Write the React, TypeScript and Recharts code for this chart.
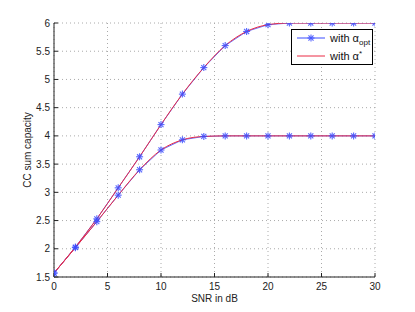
import { LineChart, Line, XAxis, YAxis, CartesianGrid } from 'recharts';

const snr = [0, 2, 4, 6, 8, 10, 12, 14, 16, 18, 20, 22, 24, 26, 28, 30];
const capHigh = [1.57, 2.03, 2.53, 3.08, 3.63, 4.2, 4.74, 5.21, 5.6, 5.85, 5.97, 6.0, 6.0, 6.0, 6.0, 6.0];
const capLow = [1.57, 2.02, 2.48, 2.95, 3.4, 3.75, 3.93, 3.99, 4.0, 4.0, 4.0, 4.0, 4.0, 4.0, 4.0, 4.0];
const xTicks = [0, 5, 10, 15, 20, 25, 30];
const yTicks = [1.5, 2, 2.5, 3, 3.5, 4, 4.5, 5, 5.5, 6];

const data = snr.map((s, i) => ({
  snr: s,
  optHigh: capHigh[i],
  optLow: capLow[i],
  starHigh: capHigh[i],
  starLow: capLow[i],
}));

const BLUE = '#3a4cff';
const RED = '#ea2a44';
const AXIS = '#222';
const font = '"Liberation Sans", Arial, sans-serif';

const StarDot = (props: any) => {
  const { cx, cy } = props;
  if (cx == null || cy == null) return null;
  const r = 3.5;
  const d = r * 0.72;
  return (
    <g stroke={BLUE} strokeWidth={1.1} opacity={0.85}>
      <line x1={cx - r} y1={cy} x2={cx + r} y2={cy} />
      <line x1={cx} y1={cy - r} x2={cx} y2={cy + r} />
      <line x1={cx - d} y1={cy - d} x2={cx + d} y2={cy + d} />
      <line x1={cx - d} y1={cy + d} x2={cx + d} y2={cy - d} />
    </g>
  );
};

const tickStyle = { fill: AXIS, fontSize: 10, fontFamily: font };

export default function App() {
  return (
    <div style={{ position: 'absolute', left: 0, top: 0, width: 415, height: 312, background: '#fff' }}>
      <LineChart
        width={415}
        height={312}
        data={data}
        margin={{ top: 23, right: 40, left: 0, bottom: 0 }}
        style={{ fontFamily: font }}
      >
        <CartesianGrid
          stroke="#aaa"
          strokeDasharray="1 3"
          horizontalValues={yTicks}
          verticalValues={xTicks}
        />
        <XAxis
          dataKey="snr"
          type="number"
          domain={[0, 30]}
          ticks={xTicks}
          height={35}
          stroke={AXIS}
          tick={tickStyle}
          tickSize={-4}
          tickMargin={10}
          allowDataOverflow
          label={{ value: 'SNR in dB', position: 'insideBottom', offset: 10, fill: AXIS, fontSize: 10, fontFamily: font }}
        />
        <XAxis
          xAxisId="top"
          orientation="top"
          type="number"
          domain={[0, 30]}
          ticks={xTicks}
          height={0}
          stroke={AXIS}
          tick={false}
          tickSize={-4}
          allowDataOverflow
        />
        <YAxis
          type="number"
          domain={[1.5, 6]}
          ticks={yTicks}
          width={54}
          stroke={AXIS}
          tick={tickStyle}
          tickSize={-4}
          tickMargin={8}
          allowDataOverflow
          label={{ value: 'CC sum capacity', angle: -90, position: 'center', fill: AXIS, fontSize: 10, fontFamily: font }}
        />
        <YAxis
          yAxisId="right"
          orientation="right"
          type="number"
          domain={[1.5, 6]}
          ticks={yTicks}
          width={0}
          stroke={AXIS}
          tick={false}
          tickSize={-4}
          allowDataOverflow
        />
        <Line dataKey="optHigh" type="linear" stroke={BLUE} strokeWidth={0.8} dot={<StarDot />} isAnimationActive={false} />
        <Line dataKey="optLow" type="linear" stroke={BLUE} strokeWidth={0.8} dot={<StarDot />} isAnimationActive={false} />
        <Line dataKey="starHigh" type="monotone" stroke={RED} strokeWidth={1} dot={false} isAnimationActive={false} />
        <Line dataKey="starLow" type="monotone" stroke={RED} strokeWidth={1} dot={false} isAnimationActive={false} />
      </LineChart>
      <div
        style={{
          position: 'absolute',
          left: 291,
          top: 29,
          width: 80,
          height: 34,
          border: '1px solid #000',
          background: '#fff',
          fontFamily: font,
          fontSize: 11,
          color: '#111',
        }}
      >
        <div style={{ position: 'absolute', left: 5, top: 1, height: 14, display: 'flex', alignItems: 'center' }}>
          <svg width={28} height={10}>
            <line x1={0} y1={5} x2={28} y2={5} stroke={BLUE} strokeWidth={1} />
            <StarDot cx={14} cy={5} />
          </svg>
          <span style={{ marginLeft: 5, lineHeight: '14px' }}>
            with α<span style={{ fontSize: 8, lineHeight: '8px', position: 'relative', top: 3 }}>opt</span>
          </span>
        </div>
        <div style={{ position: 'absolute', left: 5, top: 19, height: 14, display: 'flex', alignItems: 'center' }}>
          <svg width={28} height={10}>
            <line x1={0} y1={5} x2={28} y2={5} stroke={RED} strokeWidth={1} />
          </svg>
          <span style={{ marginLeft: 5, lineHeight: '14px' }}>
            with α<span style={{ fontSize: 8, lineHeight: '8px', position: 'relative', top: -4 }}>*</span>
          </span>
        </div>
      </div>
    </div>
  );
}
